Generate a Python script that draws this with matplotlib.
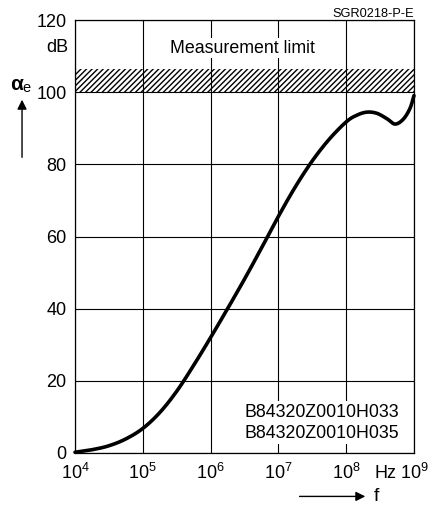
import numpy as np
import matplotlib.pyplot as plt

plt.rcParams['font.family'] = ['Liberation Sans', 'DejaVu Sans']
plt.rcParams['mathtext.fontset'] = 'custom'
plt.rcParams['mathtext.rm'] = 'Liberation Sans'
plt.rcParams['mathtext.it'] = 'Liberation Sans:italic'
plt.rcParams['mathtext.bf'] = 'Liberation Sans:bold'

# attenuation curve (log10 of f in Hz, dB)
log_f = [4.0, 4.25, 4.5, 4.75, 5.0, 5.25, 5.5, 5.75, 6.0, 6.25, 6.5, 6.75,
         7.0, 7.25, 7.5, 7.75, 8.0, 8.15, 8.3, 8.45, 8.6, 8.72, 8.84,
         8.94, 9.0]
atten = [0.2, 0.9, 2.0, 3.9, 6.8, 11.2, 17.1, 24.3, 32.0, 40.0, 48.2, 56.8,
         65.6, 73.8, 81.0, 87.0, 91.8, 93.6, 94.5, 94.2, 92.7, 91.2, 92.5,
         95.5, 99.1]

limit_lo = 100
limit_hi = 106.5
y_ticks = [0, 20, 40, 60, 80, 100, 120]
x_ticks = [1e4, 1e5, 1e6, 1e7, 1e8, 1e9]
x_labels = ['$10^4$', '$10^5$', '$10^6$', '$10^7$', '$10^8$', '$10^9$']
parts = ['B84320Z0010H033', 'B84320Z0010H035']


def smooth(x, y, n=12):
    # catmull-rom through the read points, only so the drawn line has no kinks
    x = np.asarray(x, float)
    y = np.asarray(y, float)
    px = np.concatenate(([2 * x[0] - x[1]], x, [2 * x[-1] - x[-2]]))
    py = np.concatenate(([2 * y[0] - y[1]], y, [2 * y[-1] - y[-2]]))
    t = np.linspace(0, 1, n, endpoint=False)[:, None]
    out_x, out_y = [], []
    for i in range(1, len(px) - 2):
        for p, out in ((px, out_x), (py, out_y)):
            p0, p1, p2, p3 = p[i - 1], p[i], p[i + 1], p[i + 2]
            seg = 0.5 * (2 * p1 + (-p0 + p2) * t + (2 * p0 - 5 * p1 + 4 * p2 - p3) * t ** 2
                         + (-p0 + 3 * p1 - 3 * p2 + p3) * t ** 3)
            out.extend(seg.ravel())
    out_x.append(x[-1])
    out_y.append(y[-1])
    return np.array(out_x), np.array(out_y)


fig = plt.figure(figsize=(4.32, 5.05), dpi=100)
ax = fig.add_axes([0.1736, 0.103, 0.7847, 0.857])

ax.set_xscale('log')
ax.set_xlim(1e4, 1e9)
ax.set_ylim(0, 120)

ax.grid(True, which='major', color='black', linewidth=0.8)
ax.minorticks_off()
ax.set_axisbelow(True)

ax.fill_between([1e4, 1e9], limit_lo, limit_hi, facecolor='none',
                edgecolor='black', hatch='//////', linewidth=0, zorder=2)

sx, sy = smooth(log_f, atten)
ax.plot(10 ** sx, sy, color='black', linewidth=2.6, zorder=4,
        solid_capstyle='round', solid_joinstyle='round', clip_on=False)

ax.set_yticks(y_ticks)
ax.set_yticklabels([str(v) for v in y_ticks])
ax.set_xticks(x_ticks)
ax.set_xticklabels(x_labels)
ax.tick_params(length=0, labelsize=13, pad=6)
ax.tick_params(axis='x', pad=7)
for s in ax.spines.values():
    s.set_linewidth(0.9)

ax.text(10 ** 6.47, 112.2, 'Measurement limit', ha='center', va='center',
        fontsize=12.8, zorder=3,
        bbox=dict(facecolor='white', edgecolor='none', pad=1))
ax.text(10 ** 7.636, 8.4, parts[0] + '\n' + parts[1], ha='center', va='center',
        fontsize=12.8, linespacing=1.3, zorder=3,
        bbox=dict(facecolor='white', edgecolor='none', pad=2))

fig.text(0.958, 0.985, 'SGR0218-P-E', ha='right', va='top', fontsize=9.2)
fig.text(0.159, 0.905, 'dB', ha='right', va='center', fontsize=13)
fig.text(0.893, 0.062, 'Hz', ha='center', va='center', fontsize=13)

# axis quantity labels with arrows
fig.text(0.023, 0.832, 'α', ha='left', va='center', fontsize=15,
         fontweight='bold')
fig.text(0.052, 0.826, 'e', ha='left', va='center', fontsize=10.5)
fig.add_artist(plt.Annotation('', xy=(0.051, 0.808), xytext=(0.051, 0.683),
                              xycoords='figure fraction',
                              arrowprops=dict(arrowstyle='-|>', color='black',
                                              lw=1.0, mutation_scale=14)))
fig.text(0.872, 0.017, 'f', ha='center', va='center', fontsize=14)
fig.add_artist(plt.Annotation('', xy=(0.852, 0.017), xytext=(0.687, 0.017),
                              xycoords='figure fraction',
                              arrowprops=dict(arrowstyle='-|>', color='black',
                                              lw=1.0, mutation_scale=14)))

fig.savefig('out.png', dpi=100)
